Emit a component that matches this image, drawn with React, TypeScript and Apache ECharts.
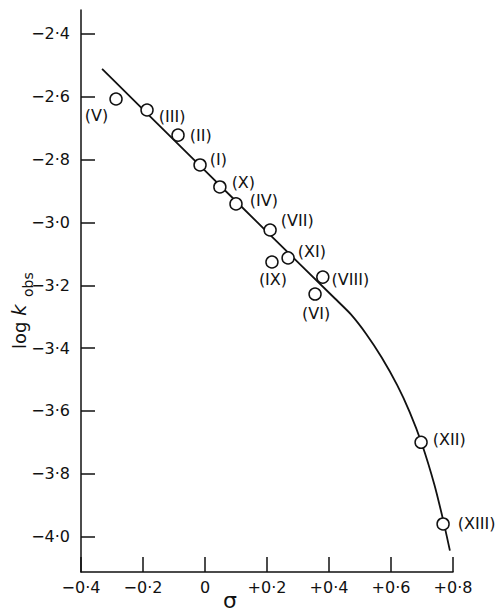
import React, { useEffect, useRef } from "react";
import * as echarts from "echarts";

const compounds = ["(V)", "(III)", "(II)", "(I)", "(X)", "(IV)", "(VII)", "(XI)", "(IX)", "(VIII)", "(VI)", "(XII)", "(XIII)"];
const sigma = [-0.287, -0.187, -0.087, -0.016, 0.048, 0.1, 0.21, 0.268, 0.216, 0.38, 0.355, 0.697, 0.768];
const logK = [-2.607, -2.642, -2.722, -2.817, -2.887, -2.941, -3.024, -3.113, -3.126, -3.174, -3.228, -3.7, -3.96];

const curveSigma = [-0.332, 0.0, 0.2, 0.42, 0.47, 0.52, 0.57, 0.62, 0.66, 0.7, 0.74, 0.77, 0.79];
const curveLogK = [-2.511, -2.835, -3.03, -3.243, -3.292, -3.355, -3.43, -3.518, -3.603, -3.706, -3.835, -3.955, -4.045];

const yTicks = [-4.0, -3.8, -3.6, -3.4, -3.2, -3.0, -2.8, -2.6, -2.4];
const xTicks = [-0.4, -0.2, 0, 0.2, 0.4, 0.6, 0.8];

// label layout (position relative to marker)
const labelLayout: Record<string, { position: string; offset: number[] }> = {
  "(V)": { position: "left", offset: [4, 16] },
  "(III)": { position: "right", offset: [0, 6] },
  "(II)": { position: "right", offset: [0, 0] },
  "(I)": { position: "right", offset: [-2, -5] },
  "(X)": { position: "right", offset: [0, -4] },
  "(IV)": { position: "right", offset: [2, -3] },
  "(VII)": { position: "right", offset: [-1, -9] },
  "(XI)": { position: "right", offset: [-2, -6] },
  "(IX)": { position: "bottom", offset: [1, -2] },
  "(VIII)": { position: "right", offset: [-3, 2] },
  "(VI)": { position: "bottom", offset: [1, 0] },
  "(XII)": { position: "right", offset: [0, -3] },
  "(XIII)": { position: "right", offset: [3, 0] },
};

const FONT = "DejaVu Sans";
const INK = "#111";

function fmt(v: number): string {
  const r = Math.round(v * 10) / 10;
  if (Math.abs(r) < 1e-9) return "0";
  const s = Math.abs(r).toFixed(1).replace(".", "·");
  return (r < 0 ? "−" : "+") + s;
}

export default function App() {
  const ref = useRef<HTMLDivElement>(null);
  useEffect(() => {
    if (!ref.current) return;
    const chart = echarts.init(ref.current, undefined, { renderer: "svg" });
    const points = sigma.map((s, i) => ({
      value: [s, logK[i]],
      name: compounds[i],
      label: {
        show: true,
        formatter: compounds[i],
        position: labelLayout[compounds[i]].position,
        offset: labelLayout[compounds[i]].offset,
        color: INK,
        fontFamily: FONT,
        fontSize: 16,
      },
    }));
    const curve = curveSigma.map((s, i) => [s, curveLogK[i]]);
    chart.setOption({
      animation: false,
      backgroundColor: "#fff",
      grid: { left: 81, right: 47, top: 10, bottom: 43 },
      xAxis: {
        type: "value",
        min: -0.4,
        max: 0.8,
        interval: 0.2,
        splitLine: { show: false },
        axisLine: { onZero: false, lineStyle: { color: INK, width: 1.5 } },
        axisTick: { inside: true, length: 15, lineStyle: { color: INK, width: 1.5 }, customValues: xTicks },
        axisLabel: {
          customValues: xTicks,
          formatter: (v: number) => fmt(v),
          color: INK,
          fontFamily: FONT,
          fontSize: 16,
          margin: 7,
        },
      },
      yAxis: {
        type: "value",
        min: -4.113,
        max: -2.3236,
        splitLine: { show: false },
        axisLine: { onZero: false, lineStyle: { color: INK, width: 1.5 } },
        axisTick: { inside: true, length: 14, lineStyle: { color: INK, width: 1.5 }, customValues: yTicks },
        axisLabel: {
          customValues: yTicks,
          formatter: (v: number) => fmt(v),
          color: INK,
          fontFamily: FONT,
          fontSize: 16,
          margin: 11,
        },
      },
      graphic: [
        {
          type: "group",
          x: 19,
          y: 311,
          rotation: Math.PI / 2,
          children: [
            { type: "text", x: -38, y: 0, style: { text: "log", fontFamily: FONT, fontSize: 18, fill: INK, verticalAlign: "middle" } },
            { type: "text", x: -5, y: 0, style: { text: "k", fontFamily: FONT, fontStyle: "italic", fontSize: 20, fill: INK, verticalAlign: "middle" } },
            { type: "text", x: 14, y: 9, style: { text: "obs", fontFamily: FONT, fontSize: 14, fill: INK, verticalAlign: "middle" } },
          ],
        },
        {
          type: "text",
          x: 230,
          y: 600,
          style: { text: "σ", fontFamily: FONT, fontSize: 22, fill: INK, align: "center", verticalAlign: "middle" },
        },
      ],
      series: [
        {
          type: "line",
          data: curve,
          smooth: 0.2,
          symbol: "none",
          lineStyle: { color: INK, width: 1.8 },
          z: 2,
        },
        {
          type: "scatter",
          data: points,
          symbol: "circle",
          symbolSize: 12,
          itemStyle: { color: "#fff", borderColor: INK, borderWidth: 1.5, opacity: 1 },
          z: 3,
        },
      ],
    });
    return () => chart.dispose();
  }, []);
  return <div ref={ref} style={{ position: "fixed", left: 0, top: 0, width: 500, height: 615 }} />;
}
